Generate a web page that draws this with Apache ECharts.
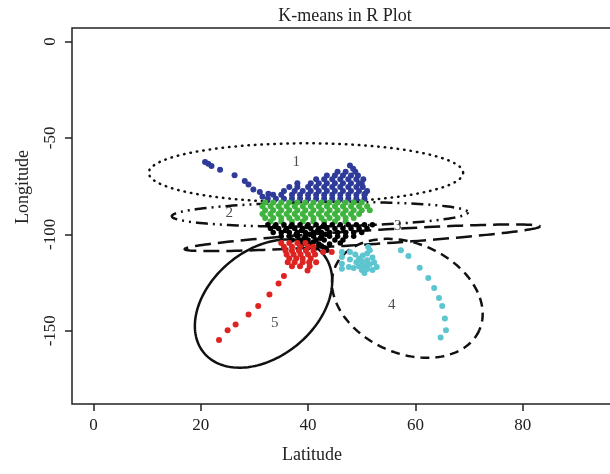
<!DOCTYPE html>
<html>
<head>
<meta charset="utf-8">
<title>K-means in R Plot</title>
<script src="https://cdn.jsdelivr.net/npm/echarts@6/dist/echarts.min.js"></script>
<style>
  html, body { margin: 0; padding: 0; background: #fff; }
  #kmeans { width: 610px; height: 474px; }
</style>
</head>
<body>
<div id="kmeans"></div>
<script>
// tick values
var xTicks = [0, 20, 40, 60, 80];
var yTicks = [0, -50, -100, -150];

// cluster 1 (blue)
var cluster1 = [
  [20.8, -62.5], [21.4, -63.4], [22.0, -64.6], [23.6, -66.5], [26.3, -69.4], [28.2, -72.4],
  [28.9, -74.2], [29.8, -76.7], [31.0, -78.1], [31.5, -80.5], [32.6, -79.0],
  [32.5, -81.5], [34, -81.5], [35.5, -81.5], [37, -81.5], [38.5, -81.5], [40, -81.5], [41.5, -81.5],
  [43, -81.5], [44.5, -81.5], [46, -81.5], [47.5, -81.5], [49, -81.5], [50.5, -81.5],
  [33.5, -79.5], [35, -79.5], [37, -79.5], [38.5, -79.5], [40, -79.5], [41.5, -79.5], [43, -79.5],
  [44.5, -79.5], [46, -79.5], [47.5, -79.5], [49, -79.5], [50.5, -79.5],
  [35.5, -77.5], [37.5, -77.5], [39, -77.5], [40.5, -77.5], [42, -77.5], [43.5, -77.5], [45, -77.5],
  [46.5, -77.5], [48, -77.5], [49.5, -77.5], [51, -77.5],
  [36.5, -75.5], [38, -75.5], [40, -75.5], [41.5, -75.5], [43, -75.5], [44.5, -75.5], [46, -75.5],
  [47.5, -75.5], [49, -75.5], [50.2, -75.5],
  [38, -73.5], [40.5, -73.5], [42, -73.5], [43.5, -73.5], [45, -73.5], [46.5, -73.5], [48, -73.5], [49.5, -73.5],
  [41.5, -71.5], [43, -71.5], [44.5, -71.5], [46, -71.5], [47.5, -71.5], [49, -71.5], [50.3, -71.5],
  [43.5, -69.5], [45, -69.5], [46.5, -69.5], [48, -69.5], [49.3, -69.5],
  [45.5, -67.5], [47, -67.5], [48.8, -67.5], [47.8, -64.3], [48.4, -66.0], [50.6, -78.9], [50.0, -73.7]
];

// cluster 2 (green)
var cluster2 = [
  [32, -83.5], [33.5, -83.5], [35, -83.5], [36.5, -83.5], [38, -83.5], [39.5, -83.5], [41, -83.5],
  [42.5, -83.5], [44, -83.5], [45.5, -83.5], [47, -83.5], [48.5, -83.5], [50, -83.5],
  [31.5, -85.5], [33, -85.5], [34.5, -85.5], [36, -85.5], [37.5, -85.5], [39, -85.5], [40.5, -85.5],
  [42, -85.5], [43.5, -85.5], [45, -85.5], [46.5, -85.5], [48, -85.5], [49.5, -85.5], [51, -85.5],
  [32, -87.5], [33.5, -87.5], [35, -87.5], [36.5, -87.5], [38, -87.5], [39.5, -87.5], [41, -87.5],
  [42.5, -87.5], [44, -87.5], [45.5, -87.5], [47, -87.5], [48.5, -87.5], [50, -87.5], [51.5, -87.5],
  [31.5, -89.5], [33, -89.5], [34.5, -89.5], [36, -89.5], [37.5, -89.5], [39, -89.5], [40.5, -89.5],
  [42, -89.5], [43.5, -89.5], [45, -89.5], [46.5, -89.5], [48, -89.5], [49.5, -89.5],
  [32, -91.5], [33.5, -91.5], [35, -91.5], [36.5, -91.5], [38, -91.5], [39.5, -91.5], [41, -91.5],
  [42.5, -91.5], [44, -91.5], [45.5, -91.5], [47, -91.5], [48.5, -91.5],
  [33, -93.3], [35, -93.3], [37, -93.3], [39, -93.3], [41, -93.3], [43, -93.3], [45, -93.3], [47, -93.3]
];

// cluster 3 (black)
var cluster3 = [
  [32.5, -95], [34, -95], [35.5, -95], [37, -95], [38.5, -95], [40, -95], [41.5, -95], [43, -95],
  [44.5, -95], [46, -95], [47.5, -95], [49, -95], [50.5, -95], [52, -95],
  [33, -97], [34.5, -97], [36, -97], [37.5, -97], [39, -97], [40.5, -97], [42, -97], [43.5, -97],
  [45, -97], [46.5, -97], [48, -97], [49.5, -97], [51, -97],
  [33.5, -99], [35, -99], [36.5, -99], [38, -99], [39.5, -99], [41, -99], [42.5, -99], [44, -99],
  [45.5, -99], [47, -99], [48.5, -99], [50, -99],
  [35, -101], [36.5, -101], [38, -101], [39.5, -101], [41, -101], [42.5, -101], [44, -101],
  [45.5, -101], [47, -101], [48.5, -101],
  [37, -103], [38.5, -103], [40, -103], [41.5, -103], [43, -103], [45, -103], [46.5, -103],
  [39, -105], [40.5, -105], [42, -105], [44, -105], [40, -107], [41.5, -107], [43, -107],
  [43.5, -108.3], [46, -104.5],
  [33.8, -96], [36.8, -96], [39.8, -96], [42.8, -96], [35.8, -98], [38.8, -98], [41.8, -98],
  [37.8, -100], [40.3, -100], [43.3, -100], [39.3, -102], [42.3, -102], [41, -104], [42.5, -106]
];

// cluster 4 (cyan)
var cluster4 = [
  [46.3, -109.2], [46.3, -111.8], [46.3, -115.2], [46.3, -117.8], [47.8, -109.2], [47.8, -113],
  [47.6, -117], [48.8, -110.5], [49.5, -112.5], [50.2, -111], [51, -110], [51.2, -106.6],
  [51.5, -108.3], [49, -114.5], [50, -114], [51, -113.5], [52, -112], [49.5, -116.5], [50.5, -116],
  [51.5, -115.5], [52.3, -114.5], [50, -118.5], [51, -118], [52, -118.5], [52.8, -117],
  [48.5, -117.5], [50.5, -120],
  [57.3, -108.3], [58.7, -111.2], [60.8, -117.3], [62.4, -122.6], [63.5, -127.8], [64.4, -133.0],
  [65.0, -137.2], [65.5, -143.7], [65.7, -149.7], [64.7, -153.5]
];

// cluster 5 (red)
var cluster5 = [
  [35, -104.5], [36.5, -104.5], [38, -104.5], [39.5, -104.5],
  [35.5, -106.5], [37, -106.5], [38.5, -106.5], [40, -106.5], [41, -106.5],
  [35.8, -108.5], [37, -108.5], [38.3, -108.5], [39.6, -108.5], [41, -108.5],
  [36, -110.5], [37.3, -110.5], [38.6, -110.5], [40, -110.5], [41.3, -110.5],
  [36.5, -112.5], [37.8, -112.5], [39, -112.5], [40.5, -112.5],
  [36.2, -114.5], [37.5, -114.5], [39, -114.5], [40.2, -114.5], [41.5, -114.5],
  [37, -116.5], [38.5, -116.5], [40.3, -116.5], [42.8, -109.2], [44.4, -109.2],
  [39.9, -118.7], [35.5, -121.6], [34.5, -125.5], [32.8, -131.2], [30.7, -137.2], [28.9, -141.6],
  [26.5, -146.8], [25.0, -149.7], [23.4, -154.8]
];

// ellipses: centre x, centre y, major-axis end x, y, minor-axis end x, y
var ellipses = [
  [39.6, -68.1, 68.9, -68.1, 39.6, -83.4],
  [42.2, -89.6, 69.8, -88.6, 42.2, -95.9],
  [50.1, -101.8, 83.2, -95.9, 50.2, -105.4],
  [58.5, -133.2, 71.9, -149.8, 54.3, -159.2],
  [31.7, -135.9, 42.9, -110.6, 37.9, -157.5]
];

var labelNames = ['1', '2', '3', '4', '5'];
var labelPos = [[37.8, -62.7], [25.3, -89.1], [56.7, -95.9], [55.6, -136.8], [33.8, -146.1]];

var ellipseDash = [[0.5, 6], [2, 5, 2, 5, 12, 5], [16, 7], [9, 6], null];
var serif = '"Liberation Serif", "DejaVu Serif", serif';

var myChart = echarts.init(document.getElementById('kmeans'));

function pointSeries(data, color, size) {
  return {
    type: 'scatter',
    data: data,
    symbolSize: size,
    itemStyle: { color: color, opacity: 1 },
    silent: true
  };
}

myChart.setOption({
  animation: false,
  title: {
    text: 'K-means in R Plot',
    left: 340,
    top: 2,
    textAlign: 'center',
    textStyle: { fontFamily: serif, fontSize: 18, fontWeight: 'normal', color: '#222' }
  },
  grid: {
    left: 72,
    top: 28,
    width: 558,
    height: 376,
    outerBoundsMode: 'none',
    containLabel: false,
    show: true,
    borderColor: '#222',
    borderWidth: 1.5
  },
  xAxis: {
    type: 'value',
    min: -4,
    max: 100,
    name: 'Latitude',
    nameLocation: 'middle',
    nameGap: 42,
    nameTextStyle: { fontFamily: serif, fontSize: 18, color: '#222', padding: [0, 78, 0, 0] },
    axisLine: { show: false, onZero: false },
    splitLine: { show: false },
    axisTick: { show: true, length: 7, lineStyle: { color: '#222', width: 1.5 }, customValues: xTicks },
    axisLabel: { fontFamily: serif, fontSize: 17, color: '#222', margin: 13, customValues: xTicks }
  },
  yAxis: {
    type: 'value',
    min: -188,
    max: 7,
    name: 'Longitude',
    nameLocation: 'middle',
    nameGap: 40,
    nameRotate: 90,
    nameTextStyle: { fontFamily: serif, fontSize: 18, color: '#222', padding: [0, 0, 0, 58] },
    axisLine: { show: false, onZero: false },
    splitLine: { show: false },
    axisTick: { show: true, length: 7, lineStyle: { color: '#222', width: 1.5 }, customValues: yTicks },
    axisLabel: { fontFamily: serif, fontSize: 17, color: '#222', margin: 13, rotate: 90, customValues: yTicks }
  },
  series: [
    pointSeries(cluster1, '#2e3b98', 6),
    pointSeries(cluster2, '#3fb43e', 6),
    pointSeries(cluster3, '#000000', 5.5),
    pointSeries(cluster4, '#5cc5cf', 6),
    pointSeries(cluster5, '#dd2420', 6),
    {
      type: 'custom',
      data: ellipses,
      encode: { x: [0, 2, 4], y: [1, 3, 5] },
      silent: true,
      renderItem: function (params, api) {
        var c = api.coord([api.value(0), api.value(1)]);
        var p = api.coord([api.value(2), api.value(3)]);
        var q = api.coord([api.value(4), api.value(5)]);
        var pts = [];
        for (var i = 0; i <= 180; i++) {
          var t = i / 180 * Math.PI * 2;
          pts.push([
            c[0] + Math.cos(t) * (p[0] - c[0]) + Math.sin(t) * (q[0] - c[0]),
            c[1] + Math.cos(t) * (p[1] - c[1]) + Math.sin(t) * (q[1] - c[1])
          ]);
        }
        var dash = ellipseDash[params.dataIndex];
        return {
          type: 'polyline',
          shape: { points: pts },
          style: {
            stroke: '#111',
            fill: null,
            lineWidth: 2.5,
            lineDash: dash,
            lineCap: dash && dash[0] < 1 ? 'round' : 'butt'
          }
        };
      }
    },
    {
      type: 'scatter',
      data: labelPos,
      symbolSize: 0,
      silent: true,
      label: {
        show: true,
        position: 'inside',
        fontFamily: serif,
        fontSize: 15,
        color: '#222',
        formatter: function (p) {
          return labelNames[p.dataIndex];
        }
      }
    }
  ]
});
</script>
</body>
</html>
